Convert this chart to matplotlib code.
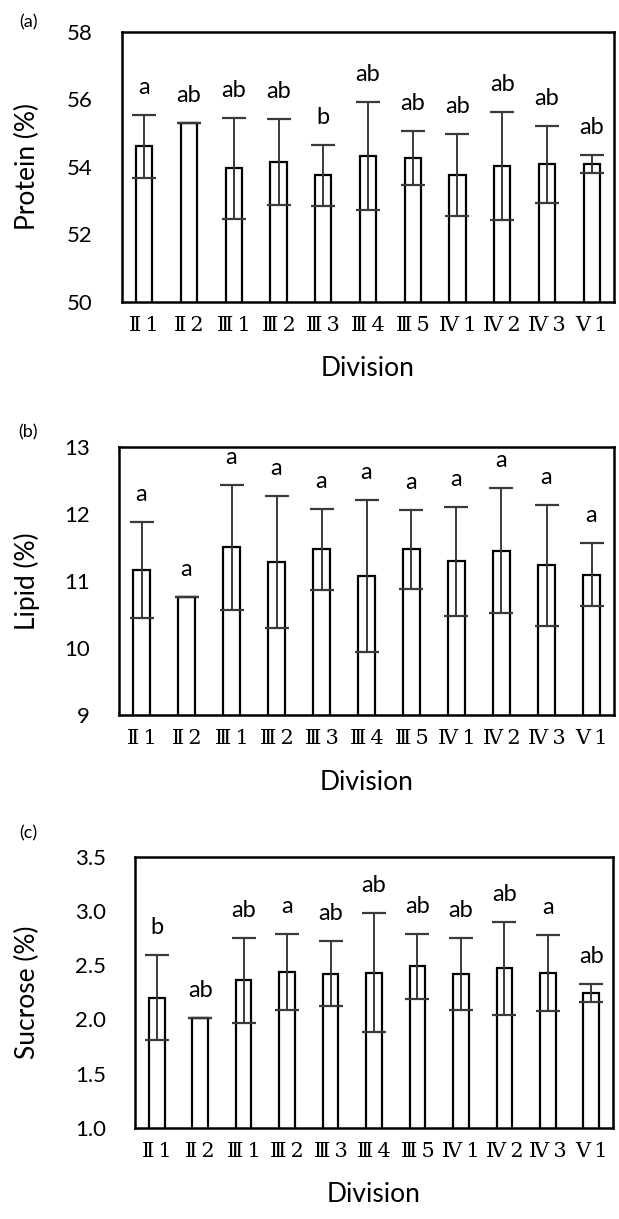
import numpy as np
import matplotlib
matplotlib.use("Agg")
import matplotlib.pyplot as plt

# Divisions (x categories)
divisions = ["Ⅱ1", "Ⅱ2", "Ⅲ1", "Ⅲ2", "Ⅲ3", "Ⅲ4", "Ⅲ5", "Ⅳ1", "Ⅳ2", "Ⅳ3", "Ⅴ1"]

# (a) Protein
protein_mean = [54.6, 55.3, 53.95, 54.13, 53.75, 54.33, 54.26, 53.75, 54.02, 54.07, 54.08]
protein_sd = [0.93, 0.0, 1.49, 1.27, 0.90, 1.60, 0.81, 1.21, 1.60, 1.15, 0.27]
protein_letters = ["a", "ab", "ab", "ab", "b", "ab", "ab", "ab", "ab", "ab", "ab"]

# (b) Lipid
lipid_mean = [11.16, 10.76, 11.50, 11.28, 11.47, 11.07, 11.47, 11.29, 11.45, 11.23, 11.09]
lipid_sd = [0.71, 0.0, 0.93, 0.98, 0.60, 1.13, 0.59, 0.81, 0.93, 0.90, 0.47]
lipid_letters = ["a"] * 11

# (c) Sucrose
sucrose_mean = [2.20, 2.01, 2.36, 2.44, 2.42, 2.43, 2.49, 2.42, 2.47, 2.43, 2.24]
sucrose_sd = [0.39, 0.0, 0.39, 0.35, 0.30, 0.55, 0.30, 0.33, 0.43, 0.35, 0.085]
sucrose_letters = ["b", "ab", "ab", "a", "ab", "ab", "ab", "ab", "ab", "a", "ab"]

SANS = ["Lato", "DejaVu Sans"]
SERIF = ["DejaVu Serif", "Noto Sans CJK JP"]

W, H = 619, 1219
fig = plt.figure(figsize=(W / 100, H / 100), dpi=100)


def px_axes(left, right, top, bottom):
    return fig.add_axes([left / W, 1 - bottom / H, (right - left) / W, (bottom - top) / H])


panels = [
    dict(box=(122, 614, 31.7, 301.7), mean=protein_mean, sd=protein_sd, letters=protein_letters,
         ylim=(50, 58), ticks=np.arange(50, 59, 2), fmt="{:.0f}", ylabel="Protein (%)",
         tag="(a)", tag_y=22),
    dict(box=(119, 614, 446.7, 715), mean=lipid_mean, sd=lipid_sd, letters=lipid_letters,
         ylim=(9, 13), ticks=np.arange(9, 14, 1), fmt="{:.0f}", ylabel="Lipid (%)",
         tag="(b)", tag_y=432),
    dict(box=(135, 613, 856.7, 1127.7), mean=sucrose_mean, sd=sucrose_sd, letters=sucrose_letters,
         ylim=(1.0, 3.5), ticks=np.arange(1.0, 3.51, 0.5), fmt="{:.1f}", ylabel="Sucrose (%)",
         tag="(c)", tag_y=833),
]

x = np.arange(len(divisions))

for p in panels:
    left, right, top, bottom = p["box"]
    ax = px_axes(left, right, top, bottom)
    ax.bar(x, p["mean"], width=0.36, color="white", edgecolor="black", linewidth=1.6, zorder=2)
    ax.errorbar(x, p["mean"], yerr=p["sd"], fmt="none", ecolor="#3a3a3a",
                elinewidth=1.4, capsize=8.5, capthick=1.6, zorder=3)
    for xi, m, s, lab in zip(x, p["mean"], p["sd"], p["letters"]):
        ax.annotate(lab, (xi, m + s), xytext=(0, 21), textcoords="offset pixels",
                    ha="center", va="baseline", fontsize=17, family=SANS)
    ax.set_xlim(-0.5, len(divisions) - 0.5)
    ax.set_ylim(*p["ylim"])
    ax.set_yticks(p["ticks"])
    ax.set_yticklabels([p["fmt"].format(t) for t in p["ticks"]], family=SANS, fontsize=16)
    ax.set_xticks(x)
    ax.set_xticklabels([d[0] + "\u2009" + d[1] for d in divisions], family=SERIF, fontsize=15)
    ax.tick_params(axis="both", length=0)
    ax.tick_params(axis="y", pad=21)
    ax.tick_params(axis="x", pad=10)
    for sp in ax.spines.values():
        sp.set_linewidth(1.8)
    cx = (left + right) / 2
    fig.text(cx / W, 1 - (bottom + 67) / H, "Division", ha="center", va="center",
             fontsize=19, family=SANS)
    fig.text(27 / W, 1 - ((top + bottom) / 2) / H, p["ylabel"], rotation=90,
             ha="center", va="center", fontsize=19, family=SANS)
    fig.text(28 / W, 1 - p["tag_y"] / H, p["tag"], ha="center", va="center",
             fontsize=13, family=SANS)

fig.savefig("out.png", dpi=100)
